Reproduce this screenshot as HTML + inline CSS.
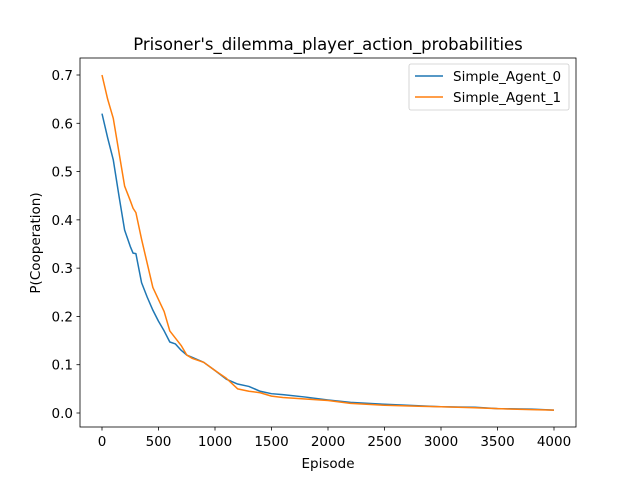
<!DOCTYPE html>
<html><head><meta charset="utf-8"><style>body{margin:0;background:#fff}svg{display:block;font-family:"DejaVu Sans","Liberation Sans",sans-serif}</style></head>
<body>
<svg id="chart" width="640" height="480">
<rect width="640" height="480" fill="#fff"/>
<text x="328" y="50" text-anchor="middle" font-size="16.5">Prisoner's_dilemma_player_action_probabilities</text>
<g id="axes"></g>
<g id="lines"></g>
<rect x="80" y="58" width="496" height="369" fill="none" stroke="#000" stroke-width="0.8"/>
<text x="328" y="468" text-anchor="middle" font-size="13.5">Episode</text>
<text x="0" y="0" transform="translate(40,243) rotate(-90)" text-anchor="middle" font-size="13.5">P(Cooperation)</text>
<g>
<rect x="409" y="64" width="160" height="46" rx="2" fill="#fff" stroke="#ccc" stroke-width="0.8"/>
<line x1="415" y1="76" x2="443" y2="76" stroke="#1f77b4" stroke-width="1.5"/>
<text x="453" y="81" font-size="13.5">Simple_Agent_0</text>
<line x1="415" y1="97" x2="443" y2="97" stroke="#ff7f0e" stroke-width="1.5"/>
<text x="453" y="102" font-size="13.5">Simple_Agent_1</text>
</g>
</svg>
<script>
const episodes=[0,50,100,150,200,250,275,300,350,400,450,500,550,600,650,700,750,800,900,1000,1100,1200,1300,1400,1500,1600,1800,2000,2200,2500,2800,3000,3300,3500,3800,4000];
const agent0=[0.62,0.57,0.524,0.45,0.379,0.345,0.331,0.33,0.27,0.24,0.213,0.19,0.17,0.147,0.143,0.13,0.12,0.115,0.105,0.088,0.07,0.06,0.055,0.045,0.04,0.038,0.033,0.027,0.022,0.018,0.015,0.013,0.012,0.009,0.008,0.006];
const agent1=[0.70,0.65,0.61,0.54,0.47,0.44,0.424,0.415,0.36,0.31,0.26,0.235,0.21,0.17,0.155,0.14,0.12,0.113,0.105,0.088,0.072,0.05,0.045,0.042,0.035,0.032,0.029,0.026,0.02,0.016,0.014,0.013,0.011,0.009,0.007,0.006];
const xTicks=[0,500,1000,1500,2000,2500,3000,3500,4000];
const yTicks=[0.0,0.1,0.2,0.3,0.4,0.5,0.6,0.7];
const NS="http://www.w3.org/2000/svg";
const xs=v=>102+v*(554-102)/4000;
const ys=v=>413-v*(413-75)/0.7;
const axes=document.getElementById('axes'),lines=document.getElementById('lines');
function mk(t,a,p){const e=document.createElementNS(NS,t);for(const k in a)e.setAttribute(k,a[k]);p.appendChild(e);return e;}
xTicks.forEach(t=>{
 const l=mk('line',{x1:xs(t),x2:xs(t),y1:427,y2:430.5,stroke:'#000','stroke-width':0.8},axes);
 
 
 const tx=mk('text',{x:xs(t),y:446,'text-anchor':'middle','font-size':13.5},axes);tx.textContent=t;
 
 
});
yTicks.forEach(t=>{
 const l=mk('line',{x1:76.5,x2:80,y1:ys(t),y2:ys(t),stroke:'#000','stroke-width':0.8},axes);
 
 
 const tx=mk('text',{x:73,y:ys(t)+5,'text-anchor':'end','font-size':13.5},axes);tx.textContent=t.toFixed(1);
 
 
});
[[agent0,'#1f77b4','line-agent-0'],[agent1,'#ff7f0e','line-agent-1']].forEach(([d,c,n])=>{
 const p=mk('polyline',{points:episodes.map((e,i)=>xs(e)+','+ys(d[i])).join(' '),fill:'none',stroke:c,'stroke-width':1.5,'stroke-linejoin':'round'},lines);
 
 
});
</script>
</body></html>
